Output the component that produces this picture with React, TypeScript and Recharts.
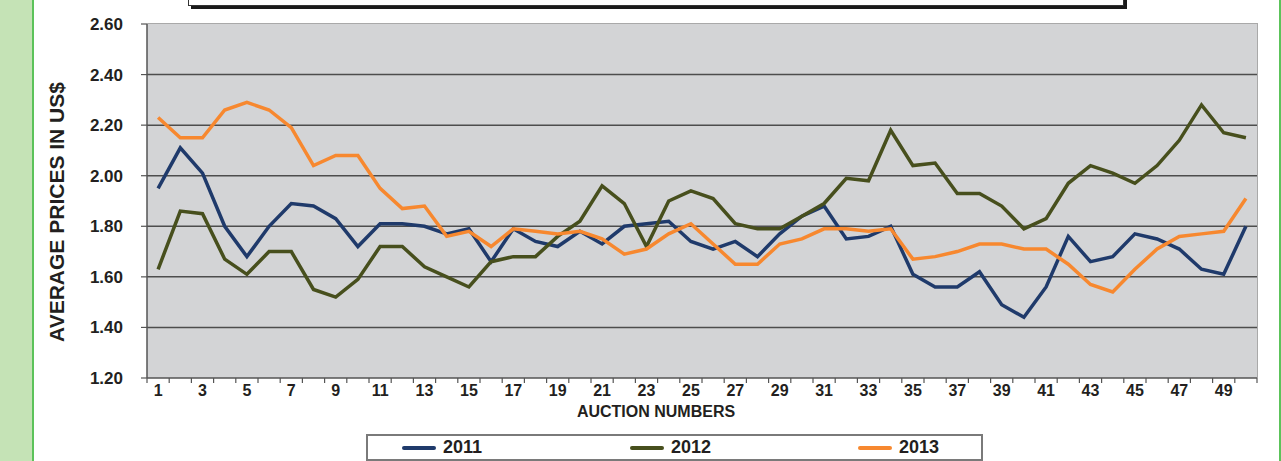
import { LineChart, Line, XAxis, YAxis, CartesianGrid } from 'recharts';

// ─── Data ────────────────────────────────────────────────
const auctions = [
  1, 2, 3, 4, 5, 6, 7, 8, 9, 10, 11, 12, 13, 14, 15, 16, 17, 18, 19, 20, 21, 22, 23, 24, 25,
  26, 27, 28, 29, 30, 31, 32, 33, 34, 35, 36, 37, 38, 39, 40, 41, 42, 43, 44, 45, 46, 47, 48, 49, 50,
];

const prices2011 = [
  1.95, 2.11, 2.01, 1.8, 1.68, 1.8, 1.89, 1.88, 1.83, 1.72,
  1.81, 1.81, 1.8, 1.77, 1.79, 1.66, 1.79, 1.74, 1.72, 1.78,
  1.73, 1.8, 1.81, 1.82, 1.74, 1.71, 1.74, 1.68, 1.77, 1.84,
  1.88, 1.75, 1.76, 1.8, 1.61, 1.56, 1.56, 1.62, 1.49, 1.44,
  1.56, 1.76, 1.66, 1.68, 1.77, 1.75, 1.71, 1.63, 1.61, 1.8,
];

const prices2012 = [
  1.63, 1.86, 1.85, 1.67, 1.61, 1.7, 1.7, 1.55, 1.52, 1.59,
  1.72, 1.72, 1.64, 1.6, 1.56, 1.66, 1.68, 1.68, 1.76, 1.82,
  1.96, 1.89, 1.72, 1.9, 1.94, 1.91, 1.81, 1.79, 1.79, 1.84,
  1.89, 1.99, 1.98, 2.18, 2.04, 2.05, 1.93, 1.93, 1.88, 1.79,
  1.83, 1.97, 2.04, 2.01, 1.97, 2.04, 2.14, 2.28, 2.17, 2.15,
];

const prices2013 = [
  2.23, 2.15, 2.15, 2.26, 2.29, 2.26, 2.19, 2.04, 2.08, 2.08,
  1.95, 1.87, 1.88, 1.76, 1.78, 1.72, 1.79, 1.78, 1.77, 1.78,
  1.75, 1.69, 1.71, 1.77, 1.81, 1.73, 1.65, 1.65, 1.73, 1.75,
  1.79, 1.79, 1.78, 1.79, 1.67, 1.68, 1.7, 1.73, 1.73, 1.71,
  1.71, 1.65, 1.57, 1.54, 1.63, 1.71, 1.76, 1.77, 1.78, 1.91,
];

const yTicks = [1.2, 1.4, 1.6, 1.8, 2.0, 2.2, 2.4, 2.6];
const gridValues = [1.4, 1.6, 1.8, 2.0, 2.2, 2.4];

const series = [
  { key: 'y2011', name: '2011', color: '#1f3a6b' },
  { key: 'y2012', name: '2012', color: '#474f1d' },
  { key: 'y2013', name: '2013', color: '#f7882f' },
];

const data = auctions.map((n, i) => ({
  auction: n,
  y2011: prices2011[i],
  y2012: prices2012[i],
  y2013: prices2013[i],
}));

// ─── Layout ──────────────────────────────────────────────
const W = 1281;
const H = 461;
const PLOT_L = 147;
const PLOT_R = 1257;
const PLOT_T = 24;
const PLOT_B = 378;
const Y_AXIS_W = 80;
const X_AXIS_H = 40;
const band = (PLOT_R - PLOT_L) / auctions.length;

const FONT = '"Liberation Sans", Arial, sans-serif';
const INK = '#231f20';

function AuctionTick(props: any) {
  const { x, payload, index } = props;
  const i = index ?? payload.index;
  const left = x - band / 2;
  return (
    <g>
      <line x1={left} x2={left} y1={PLOT_B} y2={PLOT_B + 5} stroke="#555" strokeWidth={1.2} />
      {i === auctions.length - 1 && (
        <line x1={x + band / 2} x2={x + band / 2} y1={PLOT_B} y2={PLOT_B + 5} stroke="#555" strokeWidth={1.2} />
      )}
      {i % 2 === 0 && (
        <text x={x} y={PLOT_B + 18} textAnchor="middle" fontFamily={FONT} fontWeight="bold" fontSize={16} fill={INK}>
          {payload.value}
        </text>
      )}
    </g>
  );
}

export default function App() {
  return (
    <div style={{ position: 'absolute', left: 0, top: 0, width: W, height: H, background: '#fff', overflow: 'hidden' }}>
      {/* side strips */}
      <div style={{ position: 'absolute', left: 0, top: 0, width: 32, height: H, background: '#c5e3b6', borderRight: '2px solid #5cc35a' }} />
      <div style={{ position: 'absolute', left: 1279, top: 0, width: 2, height: H, background: '#5cc35a' }} />

      <div style={{ position: 'absolute', left: 0, top: 0 }}>
        <LineChart
          width={W}
          height={H}
          data={data}
          margin={{ top: PLOT_T, right: W - PLOT_R, left: PLOT_L - Y_AXIS_W, bottom: H - PLOT_B - X_AXIS_H }}
        >
          <CartesianGrid
            fill="#d3d4d6"
            vertical={false}
            horizontalValues={gridValues}
            stroke="#4d4d4d"
            strokeWidth={1.5}
          />
          <XAxis
            dataKey="auction"
            height={X_AXIS_H}
            interval={0}
            padding={{ left: band / 2, right: band / 2 }}
            axisLine={{ stroke: '#555', strokeWidth: 1.5 }}
            tickLine={false}
            tickSize={0}
            tick={<AuctionTick />}
            label={() => (
              <text x={656} y={417} textAnchor="middle" fontFamily={FONT} fontWeight="bold" fontSize={16} fill={INK}>
                AUCTION NUMBERS
              </text>
            )}
          />
          <YAxis
            width={Y_AXIS_W}
            domain={[1.2, 2.6]}
            ticks={yTicks}
            interval={0}
            tickFormatter={(v: number) => v.toFixed(2)}
            axisLine={{ stroke: '#555', strokeWidth: 1.5 }}
            tickLine={{ stroke: '#555', strokeWidth: 1.2 }}
            tickSize={6}
            tickMargin={18}
            tick={{ fontFamily: FONT, fontWeight: 'bold', fontSize: 17, fill: INK }}
            label={() => (
              <text
                x={56}
                y={212}
                transform="rotate(-90 56 212)"
                textAnchor="middle"
                dominantBaseline="central"
                fontFamily={FONT}
                fontWeight="bold"
                fontSize={21}
                fill={INK}
              >
                AVERAGE PRICES IN US$
              </text>
            )}
          />
          {series.map((s) => (
            <Line
              key={s.key}
              type="linear"
              dataKey={s.key}
              name={s.name}
              stroke={s.color}
              strokeWidth={3.5}
              dot={false}
              activeDot={false}
              isAnimationActive={false}
            />
          ))}
        </LineChart>
      </div>

      {/* light frame on the top and right of the plot area */}
      <div
        style={{
          position: 'absolute',
          left: PLOT_L,
          top: PLOT_T - 1,
          width: PLOT_R - PLOT_L,
          height: PLOT_B - PLOT_T,
          borderTop: '1.5px solid #a9a9a9',
          borderRight: '1.5px solid #a9a9a9',
          pointerEvents: 'none',
        }}
      />

      {/* title box cut off at the top */}
      <div
        style={{
          position: 'absolute',
          left: 188,
          top: -20,
          width: 936,
          height: 26,
          boxSizing: 'border-box',
          border: '1.5px solid #333',
          background: '#fff',
          boxShadow: '3px 3px 0 #1a1a1a',
        }}
      />

      {/* legend */}
      <div
        style={{
          position: 'absolute',
          left: 366,
          top: 434,
          width: 617,
          height: 27,
          boxSizing: 'border-box',
          border: '2px solid #7a7a7a',
          background: '#fff',
        }}
      >
        {series.map((s, i) => (
          <div
            key={s.key}
            style={{
              position: 'absolute',
              left: 34 + i * 228,
              top: 0,
              height: 23,
              display: 'flex',
              alignItems: 'center',
              gap: 7,
              fontFamily: FONT,
              fontWeight: 'bold',
              fontSize: 18,
              color: INK,
            }}
          >
            <span style={{ display: 'inline-block', width: 34, height: 4, background: s.color, borderRadius: 2 }} />
            <span>{s.name}</span>
          </div>
        ))}
      </div>
    </div>
  );
}
